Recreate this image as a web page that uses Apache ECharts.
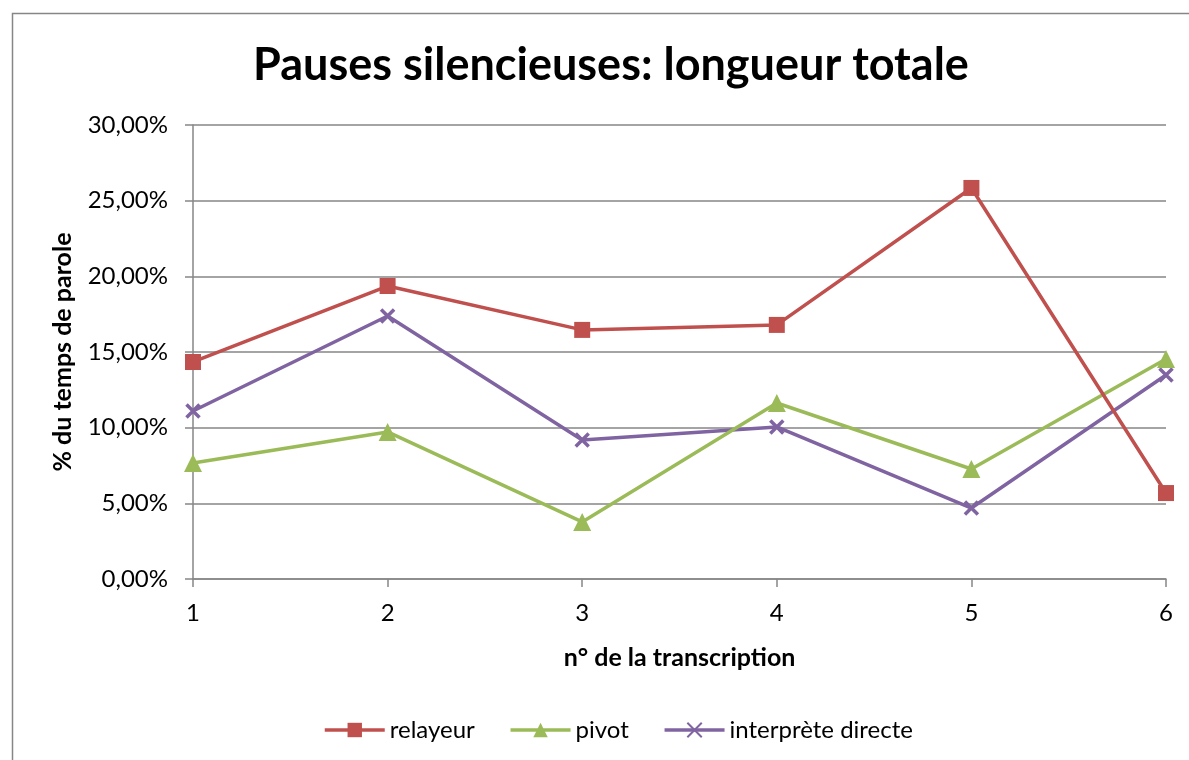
<!DOCTYPE html>
<html>
<head>
<meta charset="utf-8">
<script src="https://cdn.jsdelivr.net/npm/echarts@6/dist/echarts.min.js"></script>
<style>
  html, body { margin: 0; padding: 0; background: #fff; }
  #chart { width: 1189px; height: 760px; }
</style>
</head>
<body>
<div id="chart"></div>
<script>
const categories = ['1', '2', '3', '4', '5', '6'];
const relayeur = [14.34, 19.36, 16.46, 16.79, 25.84, 5.68];
const pivot = [7.67, 9.72, 3.77, 11.63, 7.27, 14.54];
const interpreteDirecte = [11.10, 17.38, 9.19, 10.05, 4.69, 13.48];

const fontFamily = 'Lato, "Open Sans", sans-serif';
const crossPath = 'path://M0,0 L10,10 M10,0 L0,10';

const chart = echarts.init(document.getElementById('chart'));
chart.setOption({
    animation: false,
    textStyle: {fontFamily: fontFamily, color: '#000'},
    graphic: [{
        type: 'rect',
        shape: {x: 12.5, y: 13.5, width: 1200, height: 800},
        style: {fill: 'none', stroke: '#868686', lineWidth: 1.5},
        silent: true,
    }],
    title: {
        text: 'Pauses silencieuses: longueur totale',
        left: 606,
        top: 38,
        textAlign: 'center',
        textStyle: {fontSize: 45, fontWeight: 'bold', fontFamily: fontFamily, color: '#000'},
    },
    legend: {
        left: 318,
        top: 713,
        itemWidth: 60,
        itemHeight: 18,
        itemGap: 34,
        lineStyle: {width: 3.5},
        textStyle: {fontSize: 24, fontFamily: fontFamily, color: '#000'},
        data: ['relayeur', 'pivot', 'interprète directe'],
    },
    grid: {left: 193, right: 23, top: 125, bottom: 181},
    xAxis: {
        type: 'category',
        boundaryGap: false,
        data: categories,
        name: 'n° de la transcription',
        nameLocation: 'middle',
        nameGap: 66,
        nameTextStyle: {fontSize: 25, fontWeight: 'bold', color: '#000'},
        axisLine: {lineStyle: {color: '#868686', width: 1.5}},
        axisTick: {show: true, length: 8, lineStyle: {color: '#868686', width: 1.5}},
        axisLabel: {fontSize: 24, color: '#000', margin: 22},
    },
    yAxis: {
        type: 'value',
        min: 0,
        max: 30,
        interval: 5,
        name: '% du temps de parole',
        nameLocation: 'middle',
        nameGap: 118,
        nameTextStyle: {fontSize: 25, fontWeight: 'bold', color: '#000'},
        axisLine: {show: true, lineStyle: {color: '#868686', width: 1.5}},
        axisTick: {show: true, length: 8, inside: false, lineStyle: {color: '#868686', width: 1.5}},
        splitLine: {lineStyle: {color: '#868686', width: 1.5}},
        axisLabel: {
            fontSize: 24,
            color: '#000',
            margin: 25,
            formatter: v => v.toFixed(2).replace('.', ',') + '%',
        },
    },
    series: [
        {
            name: 'relayeur',
            type: 'line',
            data: relayeur,
            symbol: 'rect',
            symbolSize: 16,
            lineStyle: {width: 3.5, color: '#C0504D'},
            itemStyle: {color: '#C0504D', borderRadius: 2},
            z: 3,
        },
        {
            name: 'pivot',
            type: 'line',
            data: pivot,
            symbol: 'triangle',
            symbolSize: 18,
            lineStyle: {width: 3.5, color: '#9BBB59'},
            itemStyle: {color: '#9BBB59'},
            z: 2,
        },
        {
            name: 'interprète directe',
            type: 'line',
            data: interpreteDirecte,
            symbol: crossPath,
            symbolSize: 13,
            lineStyle: {width: 3.5, color: '#8064A2'},
            itemStyle: {color: '#8064A2', borderColor: '#8064A2', borderWidth: 3.5},
            z: 1,
        },
    ],
});
</script>
</body>
</html>
